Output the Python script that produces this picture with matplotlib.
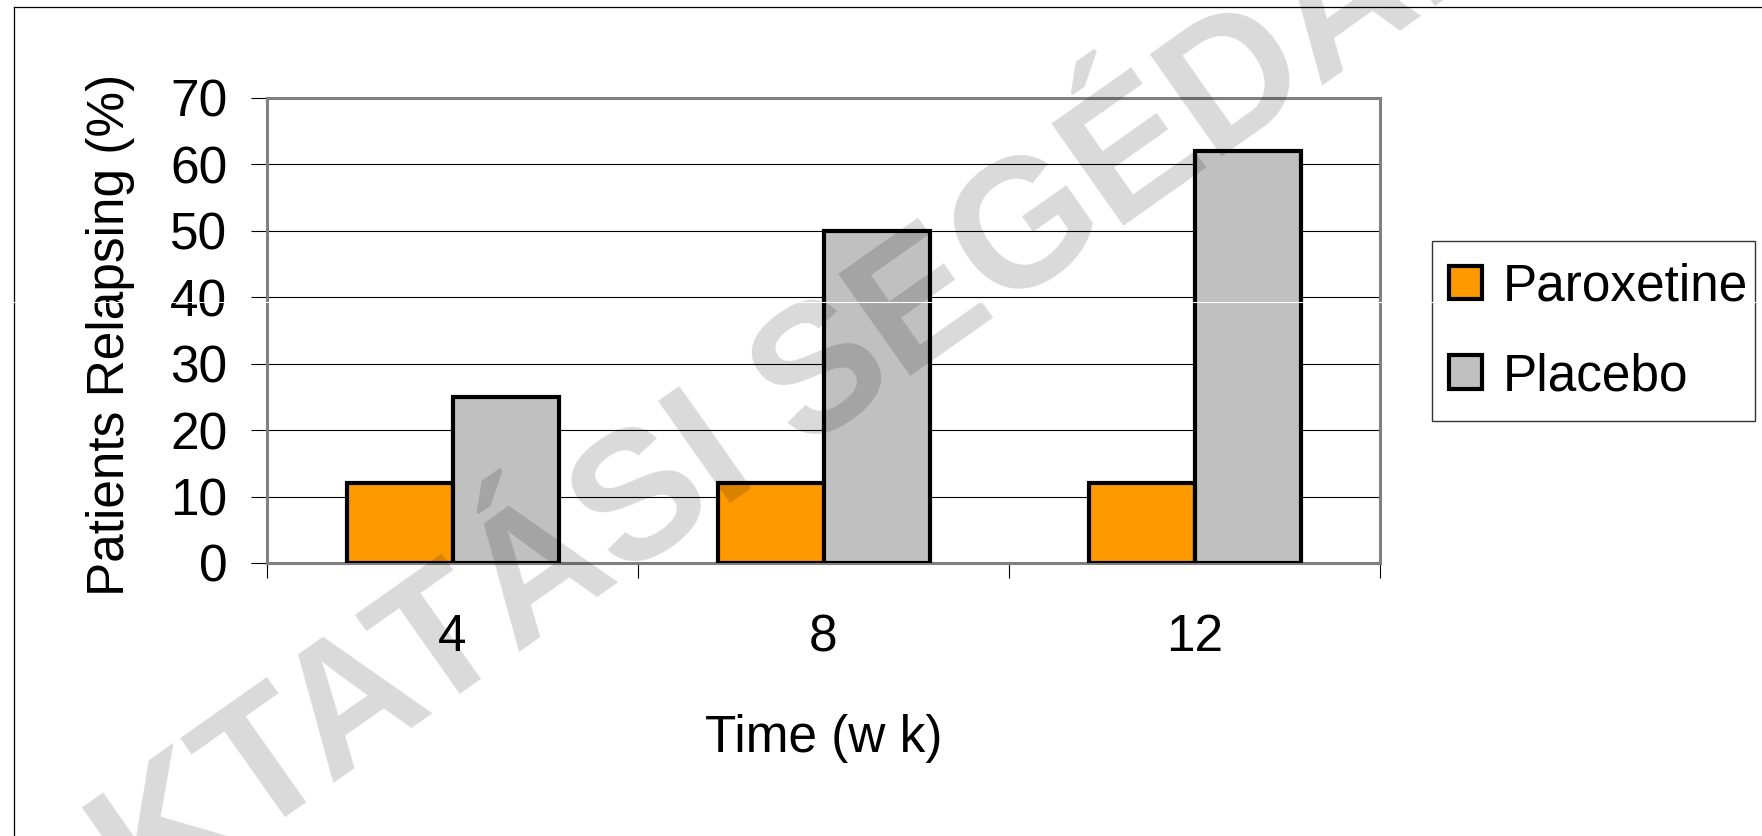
import matplotlib
matplotlib.use("Agg")
import matplotlib.pyplot as plt
from matplotlib.lines import Line2D
from matplotlib.patches import Rectangle
import numpy as np

plt.rcParams["font.family"] = ["Liberation Sans", "DejaVu Sans"]

weeks = ["4", "8", "12"]
paroxetine = [12, 12, 12]
placebo = [25, 50, 62]
series_names = ["Paroxetine", "Placebo"]
y_ticks = [0, 10, 20, 30, 40, 50, 60, 70]

ORANGE = "#FF9900"
SILVER = "#C0C0C0"
FS = 37

W, H, DPI = 1762, 836, 100
fig = plt.figure(figsize=(W / DPI, H / DPI), dpi=DPI)
ax = fig.add_axes([267 / W, 1 - 563 / H, 1113 / W, 465.5 / H])

x = np.arange(len(weeks))
bw = 1 / 3.5  # Excel-style 150% gap width
ax.bar(x - bw / 2, paroxetine, bw, color=ORANGE, edgecolor="black",
       linewidth=3.0, label=series_names[0], zorder=3)
ax.bar(x + bw / 2, placebo, bw, color=SILVER, edgecolor="black",
       linewidth=3.0, label=series_names[1], zorder=3)

ax.set_xlim(-0.5, len(weeks) - 0.5)
ax.set_ylim(0, 70)
ax.set_yticks(y_ticks)
ax.set_yticklabels([str(v) for v in y_ticks], fontsize=FS)
ax.tick_params(axis="y", direction="out", length=11.5, width=0.8, pad=17)

# category boundaries get the tick marks, labels sit at the centres
ax.set_xticks(np.arange(-0.5, len(weeks)))
ax.set_xticklabels([])
ax.set_xticks(x, minor=True)
ax.set_xticklabels(weeks, minor=True, fontsize=FS)
ax.tick_params(axis="x", which="major", direction="out", length=11, width=0.8)
ax.tick_params(axis="x", which="minor", length=0, pad=36)

ax.yaxis.grid(True, color="black", linewidth=0.8)
ax.set_axisbelow(True)
for s in ax.spines.values():
    s.set_color("#808080")
    s.set_linewidth(2.2)

ax.set_ylabel("Patients Relapsing (%)", fontsize=FS)
ax.yaxis.set_label_coords(-0.1186, 0.489)
ax.set_xlabel("Time (w k)", fontsize=FS)
ax.xaxis.set_label_coords(0.5, -0.324)

# legend entries without a frame; the box is drawn separately
leg = ax.legend(loc="upper left", bbox_to_anchor=(1434 / W, 1 - 247 / H),
                bbox_transform=fig.transFigure, borderaxespad=0,
                fontsize=FS, frameon=False,
                handlelength=0.63, handleheight=0.63, handletextpad=0.41,
                borderpad=0.3, labelspacing=0.79)
fig.add_artist(Rectangle((1432 / W, 1 - 421 / H), 323 / W, 180 / H,
                         transform=fig.transFigure, fill=False,
                         edgecolor="#333333", linewidth=1.0))

# watermark
fig.text(934 / W, 1 - 360 / H, "OKTATÁSI SEGÉDANYAG", fontsize=130,
         fontweight="bold", color="black", alpha=0.15, rotation=35.2,
         rotation_mode="anchor", ha="center", va="baseline", zorder=10)

# outer frame (left and top edges only)
fig.add_artist(Line2D([14 / W, 14 / W], [0, 1 - 7 / H], color="black",
                      linewidth=0.9, transform=fig.transFigure))
fig.add_artist(Line2D([14 / W, 1], [1 - 7 / H, 1 - 7 / H], color="black",
                      linewidth=0.9, transform=fig.transFigure))
fig.add_artist(Line2D([0, 1], [1 - 302 / H, 1 - 302 / H], color="white",
                      linewidth=0.8, transform=fig.transFigure, zorder=20))

fig.savefig("out.png", dpi=DPI, facecolor="white")
